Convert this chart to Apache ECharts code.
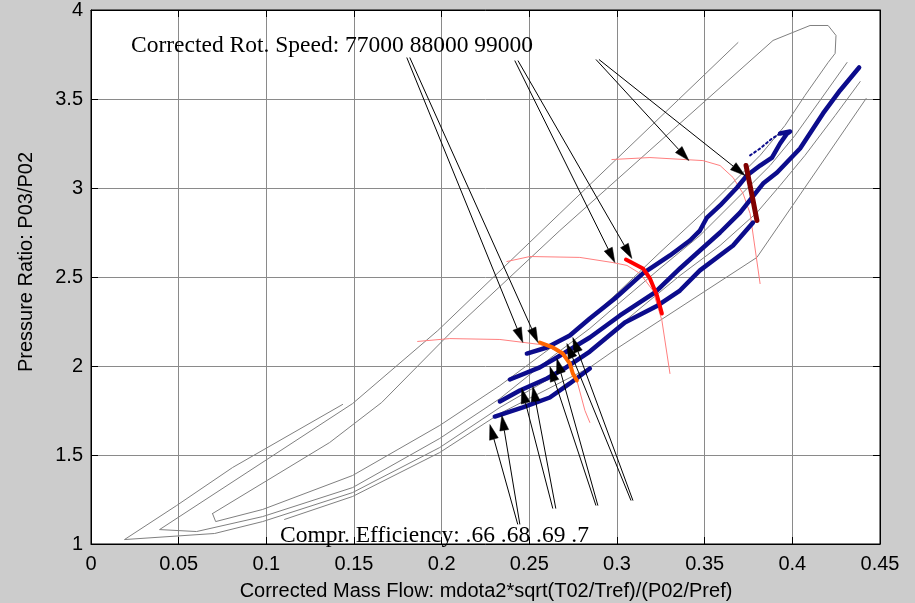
<!DOCTYPE html>
<html>
<head>
<meta charset="utf-8">
<script src="https://cdn.jsdelivr.net/npm/echarts@6/dist/echarts.min.js"></script>
<style>
html,body{margin:0;padding:0;background:#cccccc;}
#c{width:915px;height:603px;}
</style>
</head>
<body>
<div id="c"></div>
<script>
// ---- tick labels ----
const xTickLabels = ['0','0.05','0.1','0.15','0.2','0.25','0.3','0.35','0.4','0.45'];
const yTickLabels = ['1','1.5','2','2.5','3','3.5','4'];

// ---- efficiency contours (gray) ----
const effContourA = [[0.0693,1.171],[0.1361,1.570],[0.1658,1.795],[0.2063,2.199],[0.2674,2.761],[0.3890,3.829],[0.4101,3.913],[0.4204,3.913],[0.4249,3.857],[0.4244,3.756],[0.4204,3.705],[0.4072,3.520],[0.3958,3.351],[0.3816,3.183],[0.3673,3.042],[0.3473,2.846],[0.3245,2.638],[0.3017,2.424],[0.2845,2.267],[0.2617,2.098],[0.2332,1.890],[0.1989,1.666],[0.1492,1.385],[0.0979,1.194],[0.0711,1.126],[0.0693,1.171]];
const effContourB = [[0.3690,3.817],[0.2674,2.857],[0.1978,2.199],[0.1492,1.789],[0.0391,1.081],[0.0602,1.070],[0.0979,1.154],[0.1492,1.317],[0.1989,1.593],[0.2332,1.817],[0.2617,2.042],[0.2845,2.211],[0.3017,2.357],[0.3245,2.548],[0.3473,2.733],[0.3702,2.958],[0.3873,3.126],[0.4015,3.295],[0.4158,3.492],[0.4312,3.705]];
const effContourC = [[0.1435,1.784],[0.0808,1.430],[0.0488,1.216],[0.0191,1.025],[0.0705,1.059],[0.0979,1.126],[0.1492,1.289],[0.1989,1.542],[0.2332,1.767],[0.2617,1.930],[0.2845,2.087],[0.3131,2.323],[0.3359,2.508],[0.3588,2.677],[0.3798,2.862],[0.3930,3.014],[0.4072,3.183],[0.4244,3.407],[0.4387,3.598]];
const effContourD = [[0.1104,1.138],[0.1492,1.267],[0.1989,1.514],[0.2332,1.733],[0.2845,1.992],[0.2999,2.098],[0.3798,2.610],[0.4421,3.503]];

// ---- measured operating lines (blue) ----
const opLineA = [[0.2486,2.070],[0.2600,2.104],[0.2731,2.171],[0.2845,2.267],[0.2988,2.379],[0.3148,2.520],[0.3302,2.621],[0.3416,2.705],[0.3473,2.761],[0.3513,2.834],[0.3588,2.902],[0.3685,3.003],[0.3741,3.070],[0.3816,3.126],[0.3884,3.171],[0.3930,3.250],[0.3970,3.306],[0.3987,3.317],[0.3930,3.306]];
const opLineB = [[0.2389,1.924],[0.2560,1.992],[0.2657,2.048],[0.2845,2.160],[0.3017,2.284],[0.3217,2.413],[0.3359,2.548],[0.3473,2.649],[0.3588,2.750],[0.3702,2.862],[0.3833,3.025],[0.3913,3.087],[0.4044,3.222],[0.4175,3.419],[0.4272,3.548],[0.4381,3.677]];
const opLineC = [[0.2332,1.801],[0.2446,1.862],[0.2600,1.930],[0.2691,1.980],[0.2845,2.081],[0.3045,2.244],[0.3233,2.340],[0.3359,2.424],[0.3473,2.537],[0.3662,2.677],[0.3776,2.806]];
const opLineD = [[0.2303,1.716],[0.2463,1.767],[0.2617,1.823],[0.2731,1.902],[0.2845,1.986]];
const opLineDots = [[0.3759,3.183],[0.3816,3.222],[0.3884,3.278],[0.3941,3.312]];

// ---- corrected speed lines (thin) ----
const speed77000 = [[0.1863,2.138],[0.2046,2.154],[0.2332,2.149],[0.2560,2.121],[0.2657,2.087],[0.2731,2.014],[0.2771,1.919],[0.2817,1.750],[0.2845,1.683]];
const speed88000 = [[0.2372,2.587],[0.2503,2.615],[0.2788,2.610],[0.2977,2.581],[0.3057,2.565],[0.3131,2.520],[0.3205,2.424],[0.3256,2.256],[0.3302,1.958]];
const speed99000 = [[0.2971,3.160],[0.3188,3.171],[0.3490,3.154],[0.3588,3.126],[0.3662,3.059],[0.3719,2.969],[0.3759,2.857],[0.3816,2.463]];

// ---- measured speed segments (thick) ----
const meas77000 = [[0.2560,2.132],[0.2634,2.104],[0.2691,2.070],[0.2731,2.014],[0.2748,1.958],[0.2771,1.919]];
const meas88000 = [[0.3051,2.598],[0.3148,2.548],[0.3188,2.492],[0.3228,2.396],[0.3256,2.295]];
const meas99000 = [[0.3736,3.126],[0.3753,3.042],[0.3776,2.930],[0.3798,2.817]];

// ---- annotation arrows [x from, y from, x to, y to] ----
const speedArrows = [
  [0.1801,3.733,0.2463,2.132],
  [0.1818,3.733,0.2549,2.132],
  [0.2417,3.716,0.2988,2.581],
  [0.2435,3.716,0.3085,2.604],
  [0.2880,3.722,0.3410,3.154],
  [0.2897,3.722,0.3730,3.070]
];
const effArrows = [
  [0.2434,1.110,0.2275,1.671],
  [0.2446,1.110,0.2343,1.722],
  [0.2634,1.199,0.2457,1.874],
  [0.2651,1.199,0.2520,1.885],
  [0.2880,1.216,0.2617,1.997],
  [0.2891,1.216,0.2657,2.042],
  [0.3080,1.244,0.2714,2.126],
  [0.3091,1.244,0.2748,2.160]
];

const speedText = 'Corrected Rot. Speed: 77000 88000 99000';
const effText = 'Compr. Efficiency: .66 .68 .69 .7';
const xName = 'Corrected Mass Flow: mdota2*sqrt(T02/Tref)/(P02/Pref)';
const yName = 'Pressure Ratio: P03/P02';

const X_MIN = 0, X_MAX = 0.45, X_STEP = 0.05;
const Y_MIN = 1, Y_MAX = 4, Y_STEP = 0.5;

const sans = '"Liberation Sans", Arial, Helvetica, sans-serif';
const serif = '"Liberation Serif", "Times New Roman", serif';

function ln(data, color, width, z, dash) {
  return {
    type: 'line', data: data, showSymbol: false, symbol: 'none', silent: true,
    animation: false, z: z, xAxisIndex: 0, yAxisIndex: 0,
    lineStyle: { color: color, width: width, type: dash || 'solid', cap: 'round', join: 'round' }
  };
}

function renderArrow(params, api) {
  const p1 = api.coord([api.value(0), api.value(1)]);
  const p2 = api.coord([api.value(2), api.value(3)]);
  const dx = p2[0] - p1[0], dy = p2[1] - p1[1];
  const L = Math.sqrt(dx * dx + dy * dy) || 1;
  const ux = dx / L, uy = dy / L;
  const hl = 15, hw = 4.5;
  const bx = p2[0] - ux * hl, by = p2[1] - uy * hl;
  return {
    type: 'group',
    children: [
      { type: 'line', shape: { x1: p1[0], y1: p1[1], x2: bx, y2: by },
        style: { stroke: '#000', lineWidth: 1 } },
      { type: 'polygon', shape: { points: [[p2[0], p2[1]], [bx - uy * hw, by + ux * hw], [bx + uy * hw, by - ux * hw]] },
        style: { fill: '#000', stroke: '#000', lineWidth: 0.5 } }
    ]
  };
}

const chart = echarts.init(document.getElementById('c'), null, { renderer: 'canvas' });

const axisCommon = {
  type: 'value',
  axisLine: { show: true, onZero: false, lineStyle: { color: '#000', width: 1 } },
  axisTick: { show: true, inside: true, length: 7, lineStyle: { color: '#000', width: 1 } }
};

const option = {
  backgroundColor: '#cccccc',
  animation: false,
  grid: { left: 91, right: 35, top: 9, bottom: 59, show: true, backgroundColor: '#ffffff', borderColor: '#000', borderWidth: 1 },
  xAxis: [
    Object.assign({}, axisCommon, {
      min: X_MIN, max: X_MAX, interval: X_STEP, position: 'bottom',
      axisLabel: { margin: 10, color: '#000', fontSize: 20, fontFamily: sans,
        formatter: function (v) { return xTickLabels[Math.round((v - X_MIN) / X_STEP)]; } },
      splitLine: { show: true, lineStyle: { color: '#8a8a8a', width: 1 } }
    }),
    Object.assign({}, axisCommon, {
      min: X_MIN, max: X_MAX, interval: X_STEP, position: 'top',
      axisLabel: { show: false }, splitLine: { show: false }
    })
  ],
  yAxis: [
    Object.assign({}, axisCommon, {
      min: Y_MIN, max: Y_MAX, interval: Y_STEP, position: 'left',
      axisLabel: { margin: 8, color: '#000', fontSize: 20, fontFamily: sans,
        formatter: function (v) { return yTickLabels[Math.round((v - Y_MIN) / Y_STEP)]; } },
      splitLine: { show: true, lineStyle: { color: '#8a8a8a', width: 1 } }
    }),
    Object.assign({}, axisCommon, {
      min: Y_MIN, max: Y_MAX, interval: Y_STEP, position: 'right',
      axisLabel: { show: false }, splitLine: { show: false }
    })
  ],
  graphic: [
    { type: 'text', x: 131, y: 46, z: 100, silent: true,
      style: { text: speedText, fill: '#000', fontSize: 23.5, fontFamily: serif, align: 'left', verticalAlign: 'middle' } },
    { type: 'text', x: 280, y: 536, z: 100, silent: true,
      style: { text: effText, fill: '#000', fontSize: 23.5, fontFamily: serif, align: 'left', verticalAlign: 'middle' } },
    { type: 'text', x: 486, y: 591, z: 100, silent: true,
      style: { text: xName, fill: '#000', fontSize: 20, fontFamily: sans, align: 'center', verticalAlign: 'middle' } },
    { type: 'text', x: 26, y: 262, rotation: Math.PI / 2, z: 100, silent: true,
      style: { text: yName, fill: '#000', fontSize: 20, fontFamily: sans, align: 'center', verticalAlign: 'middle' } }
  ],
  series: [
    ln(effContourA, '#808080', 1, 2),
    ln(effContourB, '#808080', 1, 2),
    ln(effContourC, '#808080', 1, 2),
    ln(effContourD, '#808080', 1, 2),
    ln(speed77000, '#ff7f7f', 1, 3),
    ln(speed88000, '#ff7f7f', 1, 3),
    ln(speed99000, '#ff7f7f', 1, 3),
    ln(opLineA, '#0c0c8c', 4.5, 4),
    ln(opLineB, '#0c0c8c', 4.5, 4),
    ln(opLineC, '#0c0c8c', 4.5, 4),
    ln(opLineD, '#0c0c8c', 4.5, 4),
    ln(opLineDots, '#0c0c8c', 2, 4, [2, 3]),
    ln(meas77000, '#ff6600', 4, 5),
    ln(meas88000, '#ff0000', 4, 5),
    ln(meas99000, '#800000', 5, 5),
    {
      type: 'custom', xAxisIndex: 0, yAxisIndex: 0, z: 6, silent: true, animation: false,
      renderItem: renderArrow,
      dimensions: ['x1', 'y1', 'x2', 'y2'],
      encode: { x: [0, 2], y: [1, 3] },
      data: speedArrows.concat(effArrows)
    }
  ]
};
chart.setOption(option);
</script>
</body>
</html>
